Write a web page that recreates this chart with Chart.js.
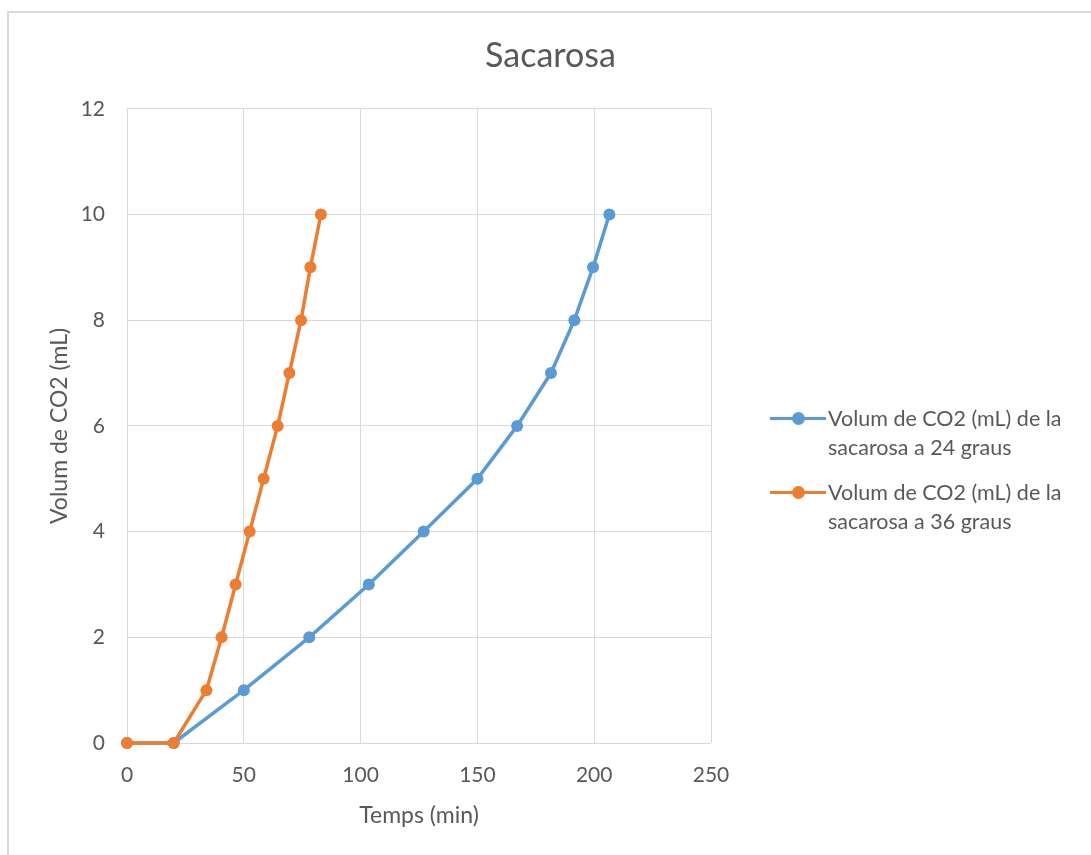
<!DOCTYPE html>
<html>
<head>
<meta charset="utf-8">
<script src="https://cdn.jsdelivr.net/npm/chart.js@4.4.1/dist/chart.umd.min.js"></script>
<style>
  html, body { margin: 0; padding: 0; background: #fff; overflow: hidden; }
  #caixa { position: absolute; left: 7px; top: 11px; width: 1100px; height: 870px; border: 2px solid #d9d9d9; box-sizing: border-box; }
  #wrap { position: absolute; left: 0; top: 0; width: 1091px; height: 855px; }
  #llegenda { position: absolute; left: 770px; top: 404px; font-family: Lato, sans-serif; font-size: 21.5px; color: #595959; line-height: 29px; white-space: nowrap; }
  .item { display: flex; align-items: flex-start; margin-bottom: 16px; }
  .mostra { position: relative; width: 58px; height: 29px; flex: none; }
  .mostra .linia { position: absolute; left: 0; right: 2px; top: 13px; height: 3px; }
  .mostra .punt { position: absolute; left: 22px; top: 8px; width: 13px; height: 13px; border-radius: 50%; }
</style>
</head>
<body>
<div id="caixa"></div>
<div id="wrap"><canvas id="grafic" width="1091" height="855"></canvas></div>
<div id="llegenda"></div>
<script>
const volum = [0, 0, 1, 2, 3, 4, 5, 6, 7, 8, 9, 10]
const temps24 = [0, 20, 50, 78, 103.5, 127, 150, 167, 181.5, 191.5, 199.5, 206.5]
const temps36 = [0, 20, 34, 40.5, 46.5, 52.5, 58.5, 64.5, 69.5, 74.5, 78.5, 83]
const nom24 = 'Volum de CO2 (mL) de la sacarosa a 24 graus'
const nom36 = 'Volum de CO2 (mL) de la sacarosa a 36 graus'
const colorBlau = '#5b9bd5'
const colorTaronja = '#ed7d31'
const colorText = '#595959'
const colorReixa = '#d9d9d9'

function punts(xs, ys){
    return xs.map((x, i) => ({x: x, y: ys[i]}))
}

const font = 'Lato'

const grafic = new Chart(document.getElementById('grafic'), {
    type: 'line',
    data: {
      datasets: [{
        label: nom24,
        data: punts(temps24, volum),
        borderColor: colorBlau,
        backgroundColor: colorBlau,
        borderWidth: 3.5,
        pointRadius: 6,
        pointBorderWidth: 0,
        clip: false,
        order: 1
      }, {
        label: nom36,
        data: punts(temps36, volum),
        borderColor: colorTaronja,
        backgroundColor: colorTaronja,
        borderWidth: 3.5,
        pointRadius: 6,
        pointBorderWidth: 0,
        clip: false,
        order: 0
      }]
    },
    options: {
      responsive: false,
      animation: false,
      layout: { padding: { left: 10, right: 0, top: 0, bottom: 0 } },
      plugins: {
        legend: { display: false },
        tooltip: { enabled: false },
        title: {
          display: true,
          text: 'Sacarosa',
          color: colorText,
          font: { family: font, size: 34, weight: 'normal' },
          padding: { top: 36, bottom: 32 }
        }
      },
      scales: {
        x: {
          type: 'linear',
          min: 0, max: 250,
          ticks: { stepSize: 50, color: colorText, font: { family: font, size: 21 }, padding: 20 },
          grid: { color: colorReixa, drawTicks: false },
          border: { display: false },
          title: { display: true, text: 'Temps (min)', color: colorText, font: { family: font, size: 23 }, padding: { top: 0, bottom: 26 } },
          afterFit: (escala) => { escala.height = 112 }
        },
        y: {
          min: 0, max: 12,
          ticks: { stepSize: 2, color: colorText, font: { family: font, size: 21 }, padding: 22 },
          grid: { color: colorReixa, drawTicks: false },
          border: { display: false },
          title: { display: true, text: 'Volum de CO2 (mL)', color: colorText, font: { family: font, size: 23 }, padding: { top: 36, bottom: 0 } },
          afterFit: (escala) => { escala.width = 117 }
        },
        // eix buit a la dreta: deixa l'espai de la llegenda sense moure el titol
        espai: {
          position: 'right',
          ticks: { display: false },
          grid: { display: false },
          border: { display: false },
          afterFit: (escala) => { escala.width = 380 }
        }
      }
    }
})

// llegenda a la dreta, amb el text partit en dues linies com a l'original
const llegenda = document.getElementById('llegenda')
grafic.data.datasets.forEach((ds) => {
    const paraules = ds.label.split(' ')
    const item = document.createElement('div')
    item.className = 'item'
    item.innerHTML = '<div class="mostra"><div class="linia" style="background:' + ds.borderColor + '"></div>' +
      '<div class="punt" style="background:' + ds.borderColor + '"></div></div>' +
      '<div>' + paraules.slice(0, 6).join(' ') + '<br>' + paraules.slice(6).join(' ') + '</div>'
    llegenda.appendChild(item)
})
</script>
</body>
</html>
